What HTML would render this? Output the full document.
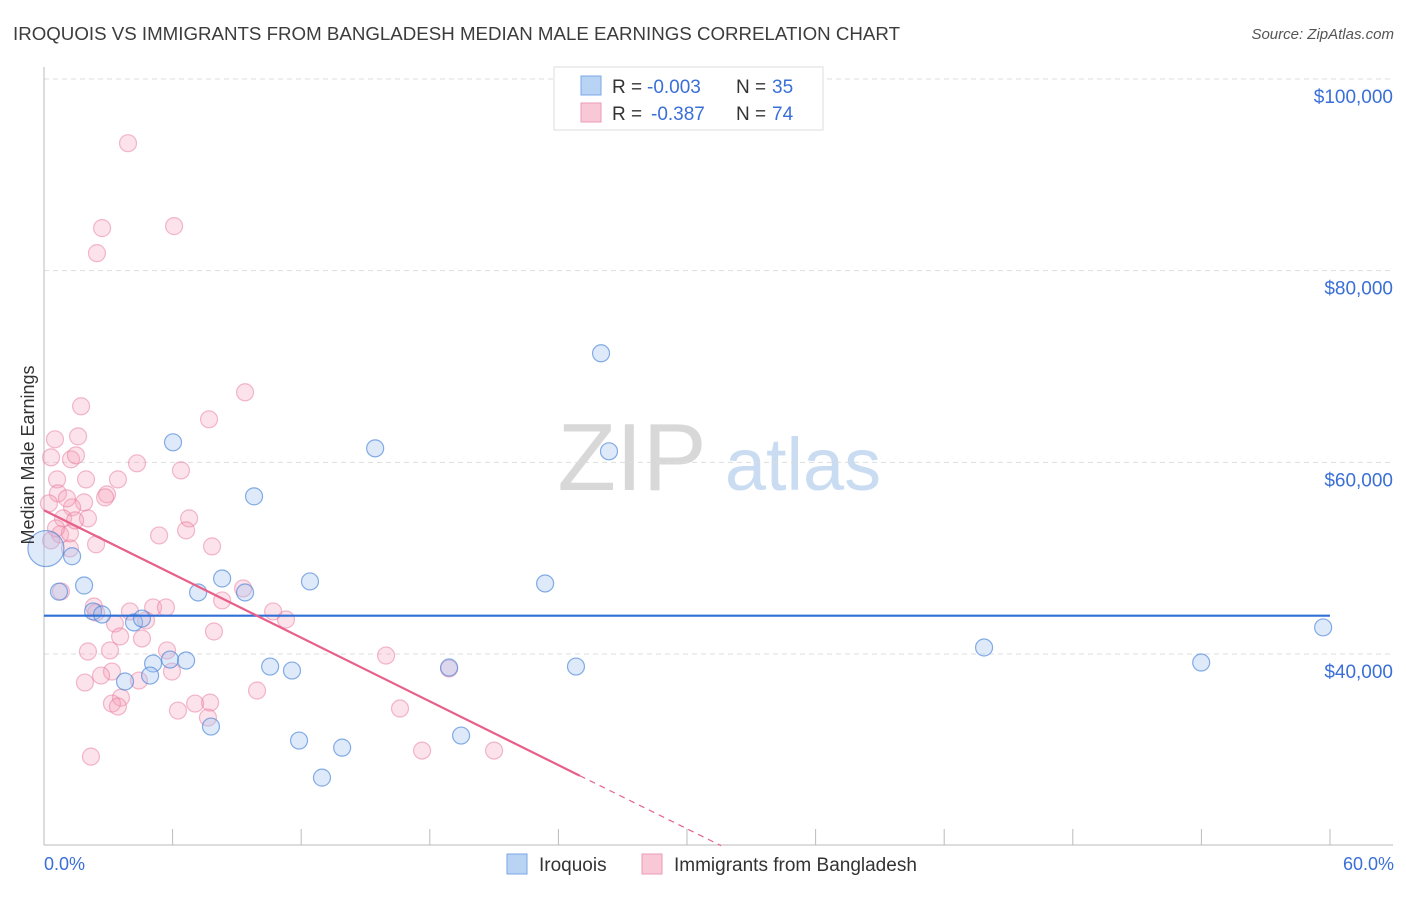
<!DOCTYPE html>
<html><head><meta charset="utf-8"><style>
body{margin:0;background:#fff;font-family:"Liberation Sans",sans-serif}
svg text{font-family:"Liberation Sans",sans-serif}
</style></head><body>
<svg id="chart" width="1406" height="892" viewBox="0 0 1406 892" xmlns="http://www.w3.org/2000/svg">
<text x="13" y="40" font-size="18" fill="#3c3c3c" textLength="887" lengthAdjust="spacingAndGlyphs">IROQUOIS VS IMMIGRANTS FROM BANGLADESH MEDIAN MALE EARNINGS CORRELATION CHART</text>
<text x="1394" y="39" font-size="15" fill="#555" text-anchor="end" font-style="italic">Source: ZipAtlas.com</text>
<g>
<text x="632" y="490" font-size="96" fill="#d8d8d8" text-anchor="middle" font-family="Liberation Serif, serif">ZIP</text>
<text x="803" y="490" font-size="74" fill="#c9dcf2" text-anchor="middle">atlas</text>
</g>
<g id="grid"></g>
<g id="axes"></g>
<g id="marks"></g>
<text transform="translate(34,455) rotate(-90)" font-size="18" fill="#333" text-anchor="middle">Median Male Earnings</text>
<text x="44" y="870" font-size="18" fill="#3a6fd8">0.0%</text>
<text x="1394" y="870" font-size="18" fill="#3a6fd8" text-anchor="end">60.0%</text>
<g>
<rect x="554" y="67" width="269" height="63" fill="#fff" stroke="#ddd"/>
<rect x="581" y="76" width="20" height="19" fill="#b8d3f4" stroke="#7aa7e6"/>
<rect x="581" y="103" width="20" height="19" fill="#f9c8d7" stroke="#eb9ab3"/>
<text x="612" y="93" font-size="19" fill="#333">R =</text>
<text x="647" y="93" font-size="19" fill="#3a6fd8">-0.003</text>
<text x="736" y="93" font-size="19" fill="#333">N =</text>
<text x="772" y="93" font-size="19" fill="#3a6fd8">35</text>
<text x="612" y="120" font-size="19" fill="#333">R =</text>
<text x="651" y="120" font-size="19" fill="#3a6fd8">-0.387</text>
<text x="736" y="120" font-size="19" fill="#333">N =</text>
<text x="772" y="120" font-size="19" fill="#3a6fd8">74</text>
</g>
<g>
<rect x="507" y="854" width="20" height="20" fill="#b8d3f4" stroke="#7aa7e6"/>
<text x="539" y="871" font-size="19" fill="#333">Iroquois</text>
<rect x="642" y="854" width="20" height="20" fill="#f9c8d7" stroke="#eb9ab3"/>
<text x="674" y="871" font-size="19" fill="#333">Immigrants from Bangladesh</text>
</g>
</svg>
<script>
const yTicks=[100000,80000,60000,40000];
const yTickLabels=["$100,000","$80,000","$60,000","$40,000"];
const xTicks=[0,6,12,18,24,30,36,42,48,54,60];
const iroX=[0.09,0.70,1.31,1.87,2.29,2.71,4.20,4.57,3.78,5.09,4.95,5.88,6.63,6.02,7.19,7.79,8.31,9.38,9.80,10.55,11.57,11.90,12.41,13.91,12.97,15.45,18.90,19.46,23.38,24.82,25.99,26.36,43.86,53.99,59.68];
const iroY=[51000,46500,50200,47150,44440,44120,43290,43700,37130,39010,37750,39420,39320,62090,46420,32430,47880,46420,56450,38690,38270,30970,47570,30230,27100,61460,38590,31490,47360,38690,71380,61150,40680,39110,42770];
const banX=[3.92,6.07,2.71,2.47,9.38,7.70,1.73,0.51,1.59,1.26,1.49,4.34,6.39,0.33,3.45,1.96,0.61,0.65,1.87,2.94,2.85,0.23,1.31,0.89,2.05,6.77,5.37,6.63,7.84,2.43,1.21,0.75,1.21,0.79,2.33,5.09,5.69,2.43,8.31,9.29,10.69,11.29,4.01,3.31,4.76,7.93,3.55,4.57,2.05,5.74,15.96,5.97,18.90,3.17,2.66,4.43,1.91,3.59,9.94,3.17,3.45,7.05,7.75,6.25,7.65,16.61,17.64,21.00,2.19,3.08,0.56,0.33,1.45,1.07];
const banY=[93300,84650,84440,81830,67310,64490,65850,62400,62710,60310,60730,59900,59160,60520,58220,58220,58220,56760,55820,56660,56340,55720,55300,54150,54150,54150,52370,52900,51230,51440,51020,52480,52590,46530,44960,44860,44860,44330,45590,46840,44440,43600,44440,43180,43500,42350,41830,41620,40260,40370,39840,38170,38480,38170,37750,37230,37020,35450,36190,34830,34520,34830,34930,34100,33370,34310,29920,29920,29290,40370,53110,51850,53940,56240];
const iroTrend=[44000,44000];
const banTrend=[55000,-1108];
const iroSizes=[18];
const NS="http://www.w3.org/2000/svg";
const X=p=>44+p*(1330-44)/60;
const Y=v=>79+(100000-v)*(654-79)/60000;
function mk(tag,attrs,parent){const e=document.createElementNS(NS,tag);for(const k in attrs)e.setAttribute(k,attrs[k]);document.getElementById(parent).appendChild(e);return e;}
yTicks.forEach((t,i)=>{
 const g=mk('line',{x1:44,x2:1393,y1:Y(t),y2:Y(t),stroke:'#ddd','stroke-dasharray':'5,4'},'grid');
 
 
 const l=mk('text',{x:1393,y:Y(t)+24,'font-size':19,fill:'#3a6fd8','text-anchor':'end'},'grid');
 l.textContent=yTickLabels[i];
 
 
});
const ax=mk('line',{x1:44,x2:44,y1:67,y2:845,stroke:'#bbb'},'axes');


const bx=mk('line',{x1:44,x2:1393,y1:845,y2:845,stroke:'#bbb'},'axes');


xTicks.forEach(t=>{
 const k=mk('line',{x1:X(t),x2:X(t),y1:829,y2:845,stroke:'#bbb'},'axes');
 
 
});
banX.forEach((x,i)=>{
 const c=mk('circle',{cx:X(x),cy:Y(banY[i]),r:8.5,fill:'rgba(244,160,186,0.3)',stroke:'rgba(232,120,155,0.5)','stroke-width':1.2},'marks');
 
 
});
iroX.forEach((x,i)=>{
 const c=mk('circle',{cx:X(x),cy:Y(iroY[i]),r:i===0?iroSizes[0]:8.5,fill:'rgba(160,196,240,0.35)',stroke:'rgba(70,130,215,0.65)','stroke-width':1.2},'marks');
 
 
});
const it=mk('line',{x1:X(0),x2:X(60),y1:Y(iroTrend[0]),y2:Y(iroTrend[1]),stroke:'#2f6fd6','stroke-width':2.2},'marks');


const bv=x=>banTrend[0]+banTrend[1]*x;
const bt=mk('line',{x1:X(0),x2:X(25),y1:Y(bv(0)),y2:Y(bv(25)),stroke:'#e8608a','stroke-width':2.2},'marks');


const xEnd=(banTrend[0]-20000)/-banTrend[1];
const bd=mk('line',{x1:X(25),x2:X(xEnd),y1:Y(bv(25)),y2:Y(bv(xEnd)),stroke:'#e8608a','stroke-width':1.2,'stroke-dasharray':'6,5'},'marks');


</script>
</body></html>
